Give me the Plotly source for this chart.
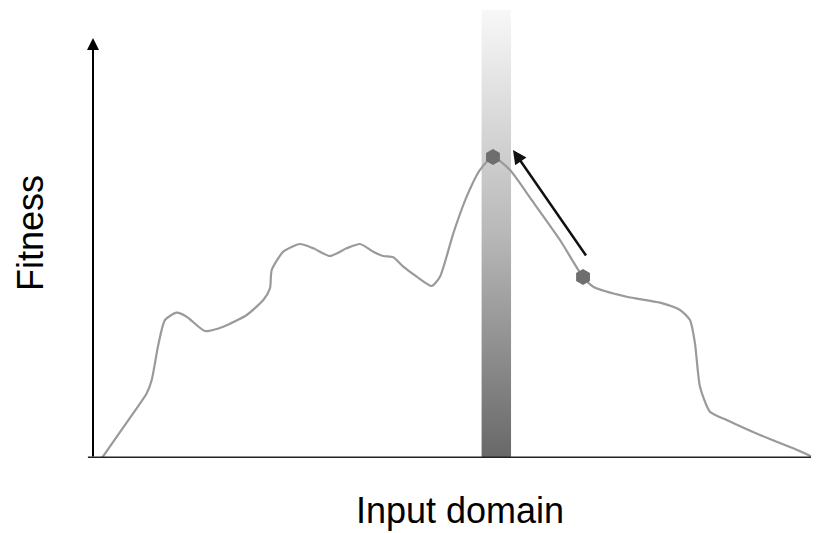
import plotly.graph_objects as go

# Fitness landscape curve (input domain 0-100, fitness 0-100)
domain_x = [1.24, 3.72, 7.41, 8.10, 9.0, 9.93, 11.54, 12.92, 15.45, 17.97, 21.2, 23.49, 24.41,
            24.65, 26.25, 28.55, 30.39, 32.69, 34.99, 36.83, 38.66, 40.04, 41.42, 42.8, 44.65,
            46.72, 47.86, 49.70, 51.54, 53.38, 55.17, 57.52, 60.51, 64.41, 67.59, 69.01, 73.6,
            78.21, 80.97, 82.34, 83.03, 83.72, 85.1, 87.41, 92.0, 96.59, 99.59]
fitness_y = [0, 5.8, 14.44, 17.41, 25.2, 30.80, 32.43, 31.54, 28.35, 29.31, 31.92, 35.27, 37.88,
             41.96, 46.05, 47.77, 46.81, 45.09, 46.81, 47.77, 46.05, 45.09, 44.8, 42.7, 40.47,
             38.39, 40.47, 50.16, 58.33, 64.29, 67.19, 64.29, 57.59, 48.66, 40.4, 38.24, 36.0,
             34.67, 33.04, 30.8, 25.6, 15.92, 10.33, 8.48, 5.13, 2.17, 0]

# Candidate solutions (hexagon markers)
point_x = [55.17, 67.59]
point_y = [67.19, 40.4]

# Highlighted band around the optimum
band_x = [53.6, 57.66]
band_y = [0, 100]

# Move arrow: from lower point toward optimum
move_from = (68.14, 44.87)
move_to = (57.93, 68.75)

# Y-axis arrow top
axis_top = 93.75

fig = go.Figure()

fig.add_trace(go.Scatter(
    x=[band_x[0], band_x[1], band_x[1], band_x[0], band_x[0]],
    y=[band_y[0], band_y[0], band_y[1], band_y[1], band_y[0]],
    mode="lines", line=dict(width=0), fill="toself",
    fillgradient=dict(type="vertical",
                      colorscale=[[0, "#686868"], [0.5, "#b8b8b8"], [1, "#f8f8f8"]]),
    hoverinfo="skip", showlegend=False))

fig.add_trace(go.Scatter(
    x=domain_x, y=fitness_y, mode="lines",
    line=dict(color="#9a9a9a", width=2.2, shape="spline", smoothing=0.6),
    showlegend=False, hoverinfo="skip"))

fig.add_trace(go.Scatter(
    x=point_x, y=point_y, mode="markers",
    marker=dict(symbol="hexagon", size=16, color="#6e6e6e", line=dict(width=0)),
    showlegend=False, hoverinfo="skip"))

# move arrow
fig.add_annotation(x=move_to[0], y=move_to[1], ax=move_from[0], ay=move_from[1],
                   xref="x", yref="y", axref="x", ayref="y", text="",
                   showarrow=True, arrowhead=2, arrowsize=1.1, arrowwidth=2.5,
                   arrowcolor="#111111")
# y axis arrow
fig.add_annotation(x=0, y=axis_top, ax=0, ay=0,
                   xref="x", yref="y", axref="x", ayref="y", text="",
                   showarrow=True, arrowhead=2, arrowsize=1.2, arrowwidth=2,
                   arrowcolor="#000000")
# x axis line
fig.add_shape(type="line", xref="paper", yref="y", x0=-0.007, x1=1.0, y0=0, y1=0,
              line=dict(color="#222222", width=3))

fig.add_annotation(text="Fitness", xref="paper", yref="paper", x=-0.087, y=0.502,
                   xanchor="center", yanchor="middle", textangle=-90, showarrow=False,
                   font=dict(family="Liberation Sans, Arial", size=36, color="#000000"))
fig.add_annotation(text="Input domain", xref="paper", yref="paper", x=0.506, y=-0.118,
                   xanchor="center", yanchor="middle", showarrow=False,
                   font=dict(family="Liberation Sans, Arial", size=36, color="#000000"))

fig.update_xaxes(range=[0, 100], visible=False, fixedrange=True)
fig.update_yaxes(range=[0, 100], visible=False, fixedrange=True)
# page body adds an 8px offset, so the figure is 8px smaller than the window
fig.update_layout(width=811, height=525, margin=dict(l=85, r=1, t=2, b=75),
                  plot_bgcolor="white", paper_bgcolor="white", showlegend=False)

fig.write_html("out.html")
